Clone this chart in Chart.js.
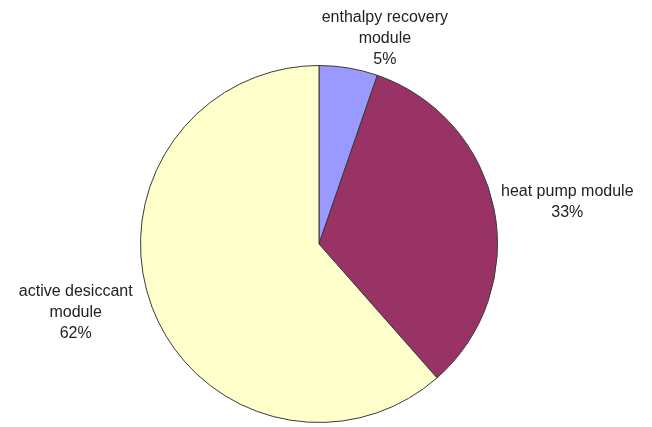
<!DOCTYPE html>
<html>
<head>
<meta charset="utf-8">
<script src="https://cdn.jsdelivr.net/npm/chart.js@4/dist/chart.umd.min.js"></script>
<style>
  html, body { margin: 0; padding: 0; background: #ffffff; }
  #wrap { width: 652px; height: 427px; position: relative; }
</style>
</head>
<body>
<div id="wrap"><canvas id="c" width="652" height="427"></canvas></div>
<script>
const categories = ["enthalpy recovery module", "heat pump module", "active desiccant module"];
const labelLines = [["enthalpy recovery", "module", "5%"], ["heat pump module", "33%"], ["active desiccant", "module", "62%"]];
const values = [5.3, 33.2, 61.5];
const colors = ["#9999FF", "#993366", "#FFFFCC"];

// label block centres, expressed relative to pie centre in units of radius
const labelPlacement = [[0.369, -1.151], [1.391, -0.232], [-1.363, 0.385]];

const labelPlugin = {
  id: 'pieLabels',
  afterDatasetsDraw(chart) {
    const meta = chart.getDatasetMeta(0);
    const ctx = chart.ctx;
    ctx.save();
    ctx.font = '16px "Liberation Sans", Arial, sans-serif';
    ctx.fillStyle = '#222222';
    ctx.textAlign = 'center';
    ctx.textBaseline = 'middle';
    const lh = 21;
    meta.data.forEach((arc, i) => {
      const p = arc.getProps(['x', 'y', 'outerRadius'], true);
      const bx = p.x + labelPlacement[i][0] * p.outerRadius;
      const by = p.y + labelPlacement[i][1] * p.outerRadius;
      const lines = labelLines[i];
      const top = by - (lines.length - 1) * lh / 2;
      lines.forEach((t, k) => ctx.fillText(t, bx, top + k * lh));
    });
    ctx.restore();
  }
};

new Chart(document.getElementById('c'), {
  type: 'pie',
  data: {
    labels: categories,
    datasets: [{
      data: values,
      backgroundColor: colors,
      borderColor: '#3a3a3a',
      borderWidth: 1
    }]
  },
  options: {
    responsive: false,
    animation: false,
    layout: { padding: { top: 65, bottom: 4, left: 0, right: 14 } },
    plugins: {
      legend: { display: false },
      tooltip: { enabled: false }
    }
  },
  plugins: [labelPlugin]
});
</script>
</body>
</html>
